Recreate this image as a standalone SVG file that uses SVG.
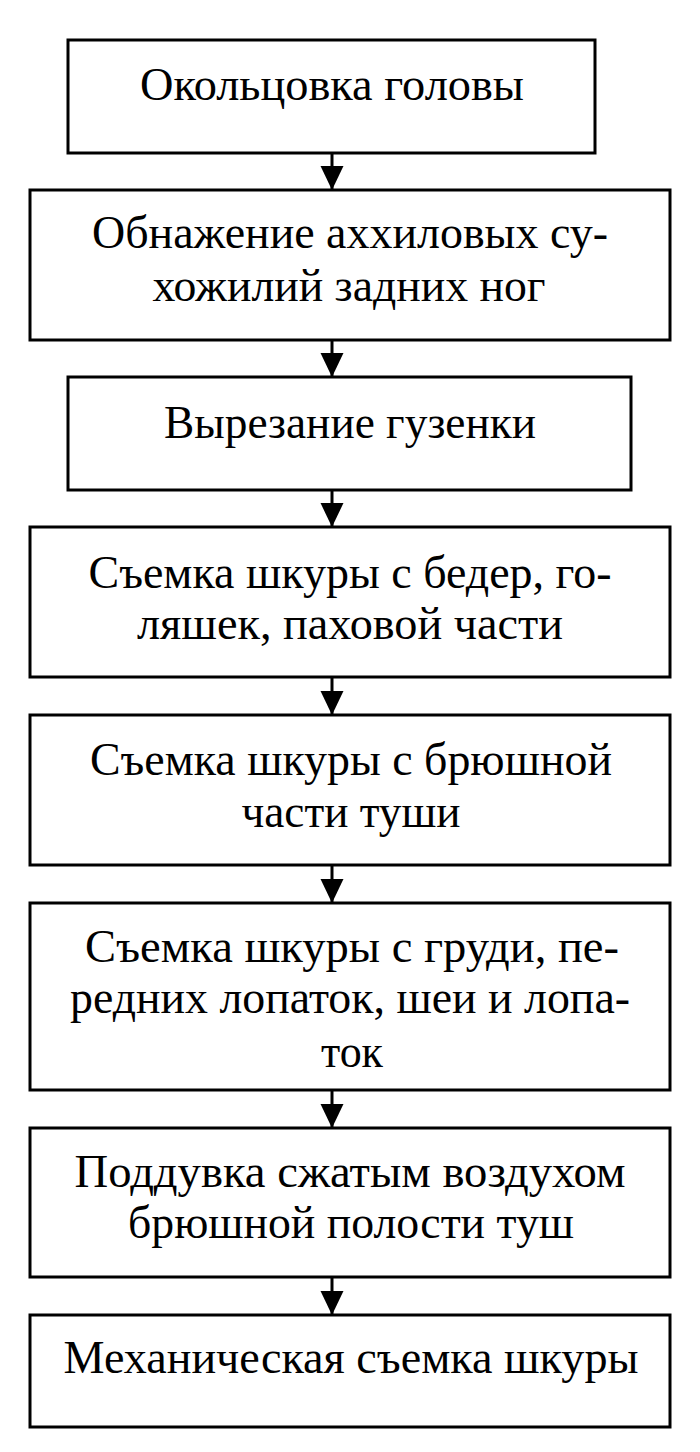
<svg xmlns="http://www.w3.org/2000/svg" width="700" height="1452" viewBox="0 0 700 1452">
<style>
.box{fill:#fff;stroke:#000;stroke-width:3}
.t{font-family:"Liberation Serif","Times New Roman",serif;font-size:46px;fill:#000;text-anchor:middle}
.c{stroke:#000;stroke-width:3;fill:none}
</style>
<defs>
<marker id="ah" markerUnits="userSpaceOnUse" markerWidth="24" markerHeight="24" refX="22" refY="11" orient="auto" viewBox="0 0 23 22">
<path d="M0,0 L23,11 L0,22 Z" fill="#000"/>
</marker>
</defs>
<rect width="700" height="1452" fill="#fff"/>
<g id="connectors">
<line class="c" x1="332" y1="153" x2="332" y2="189" marker-end="url(#ah)"/>
<line class="c" x1="332" y1="341" x2="332" y2="376" marker-end="url(#ah)"/>
<line class="c" x1="332" y1="491" x2="332" y2="526" marker-end="url(#ah)"/>
<line class="c" x1="332" y1="678" x2="332" y2="714" marker-end="url(#ah)"/>
<line class="c" x1="332" y1="866" x2="332" y2="902" marker-end="url(#ah)"/>
<line class="c" x1="332" y1="1091" x2="332" y2="1127" marker-end="url(#ah)"/>
<line class="c" x1="332" y1="1278" x2="332" y2="1314" marker-end="url(#ah)"/>
</g>
<g id="n1">
<rect class="box" x="68" y="40" width="527" height="113"/>
<text class="t" x="332" y="100" textLength="384" lengthAdjust="spacingAndGlyphs">Окольцовка головы</text>
</g>
<g id="n2">
<rect class="box" x="30" y="190" width="640" height="150"/>
<text class="t" x="350" y="248" textLength="516" lengthAdjust="spacingAndGlyphs">Обнажение аххиловых су-</text>
<text class="t" x="349" y="301" textLength="393" lengthAdjust="spacingAndGlyphs">хожилий задних ног</text>
</g>
<g id="n3">
<rect class="box" x="68" y="377" width="563" height="113"/>
<text class="t" x="350" y="438" textLength="372" lengthAdjust="spacingAndGlyphs">Вырезание гузенки</text>
</g>
<g id="n4">
<rect class="box" x="30" y="527" width="640" height="150"/>
<text class="t" x="350" y="588" textLength="523" lengthAdjust="spacingAndGlyphs">Съемка шкуры с бедер, го-</text>
<text class="t" x="350" y="639" textLength="426" lengthAdjust="spacingAndGlyphs">ляшек, паховой части</text>
</g>
<g id="n5">
<rect class="box" x="30" y="715" width="640" height="150"/>
<text class="t" x="351" y="775" textLength="522" lengthAdjust="spacingAndGlyphs">Съемка шкуры с брюшной</text>
<text class="t" x="351" y="827" textLength="219" lengthAdjust="spacingAndGlyphs">части туши</text>
</g>
<g id="n6">
<rect class="box" x="30" y="903" width="640" height="187"/>
<text class="t" x="352" y="962" textLength="534" lengthAdjust="spacingAndGlyphs">Съемка шкуры с груди, пе-</text>
<text class="t" x="350" y="1013" textLength="560" lengthAdjust="spacingAndGlyphs">редних лопаток, шеи и лопа-</text>
<text class="t" x="352" y="1067" textLength="62" lengthAdjust="spacingAndGlyphs">ток</text>
</g>
<g id="n7">
<rect class="box" x="30" y="1128" width="640" height="149"/>
<text class="t" x="350" y="1187" textLength="551" lengthAdjust="spacingAndGlyphs">Поддувка сжатым воздухом</text>
<text class="t" x="351" y="1238" textLength="446" lengthAdjust="spacingAndGlyphs">брюшной полости туш</text>
</g>
<g id="n8">
<rect class="box" x="30" y="1315" width="640" height="112"/>
<text class="t" x="351" y="1373" textLength="575" lengthAdjust="spacingAndGlyphs">Механическая съемка шкуры</text>
</g>
</svg>
